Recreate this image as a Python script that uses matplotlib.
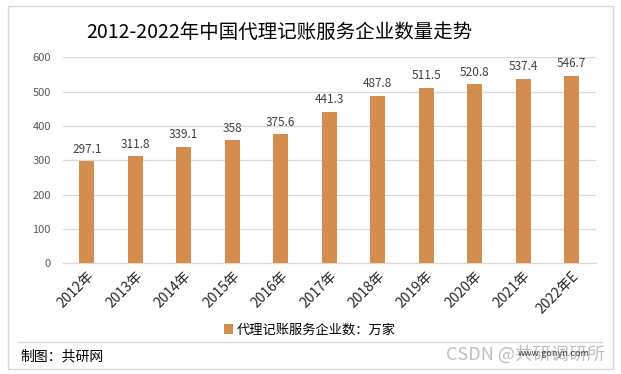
import matplotlib
matplotlib.use("Agg")
import matplotlib.pyplot as plt
from matplotlib.patches import Rectangle
from matplotlib.lines import Line2D

plt.rcParams['font.family'] = ['Noto Sans CJK SC', 'DejaVu Sans']

# 数据
years = ['2012年', '2013年', '2014年', '2015年', '2016年', '2017年',
         '2018年', '2019年', '2020年', '2021年', '2022年E']
values = [297.1, 311.8, 339.1, 358, 375.6, 441.3, 487.8, 511.5, 520.8, 537.4, 546.7]
value_labels = ['297.1', '311.8', '339.1', '358', '375.6', '441.3',
                '487.8', '511.5', '520.8', '537.4', '546.7']
yticks = [0, 100, 200, 300, 400, 500, 600]

bar_color = '#D38D4F'
grid_color = '#D9D9D9'

W, H = 621, 374
fig = plt.figure(figsize=(W / 100, H / 100), dpi=100)

# 外框
fig.add_artist(Rectangle((8 / W, 1 - 369 / H), 605 / W, 363 / H, transform=fig.transFigure,
                         fill=False, edgecolor=grid_color, lw=1))
# 分隔线
fig.add_artist(Line2D([18 / W, 602 / W], [1 - 342 / H, 1 - 342 / H], transform=fig.transFigure,
                      color=grid_color, lw=1))

ax = fig.add_axes([62.7 / W, 1 - 263.3 / H, 533 / W, 206 / H])
x = range(len(years))
bars = ax.bar(x, values, width=0.31, color=bar_color, label='代理记账服务企业数：万家', zorder=3)

for xi, v, lab in zip(x, values, value_labels):
    ax.annotate(lab, (xi, v), xytext=(0, 4), textcoords='offset points',
                ha='center', va='bottom', fontsize=8.5, color='#404040')

ax.set_xlim(-0.5, len(years) - 0.5)
ax.set_ylim(0, 600)
ax.set_yticks(yticks)
ax.set_xticks(list(x))
ax.set_xticklabels(years, rotation=45, ha='right', rotation_mode='anchor', fontsize=10, color='#262626')
ax.tick_params(axis='y', length=0, pad=8.5, labelsize=8, labelcolor='#595959')
ax.tick_params(axis='x', length=0, pad=4)
ax.grid(axis='y', color=grid_color, lw=0.9, zorder=0)
for s in ['top', 'right', 'left']:
    ax.spines[s].set_visible(False)
ax.spines['bottom'].set_color(grid_color)
ax.spines['bottom'].set_linewidth(0.9)

fig.legend(handles=[bars], loc='center', bbox_to_anchor=(310 / W, 1 - 330 / H), frameon=False,
           fontsize=9.5, handlelength=0.7, handleheight=0.7, handletextpad=0.3)

fig.text(279 / W, 1 - 32 / H, '2012-2022年中国代理记账服务企业数量走势', ha='center', va='center',
         fontsize=14, color='#000000')
fig.text(20 / W, 1 - 356 / H, '制图：共研网', ha='left', va='center', fontsize=10, color='#000000')
fig.text(605 / W, 1 - 354 / H, 'CSDN @共研调研所', ha='right', va='center', fontsize=13, color='#BFBFBF')
fig.text(590 / W, 1 - 353 / H, 'www.gonyn.com', ha='right', va='center', fontsize=6.5, color='#404040')

plt.savefig('out.png', dpi=100)
